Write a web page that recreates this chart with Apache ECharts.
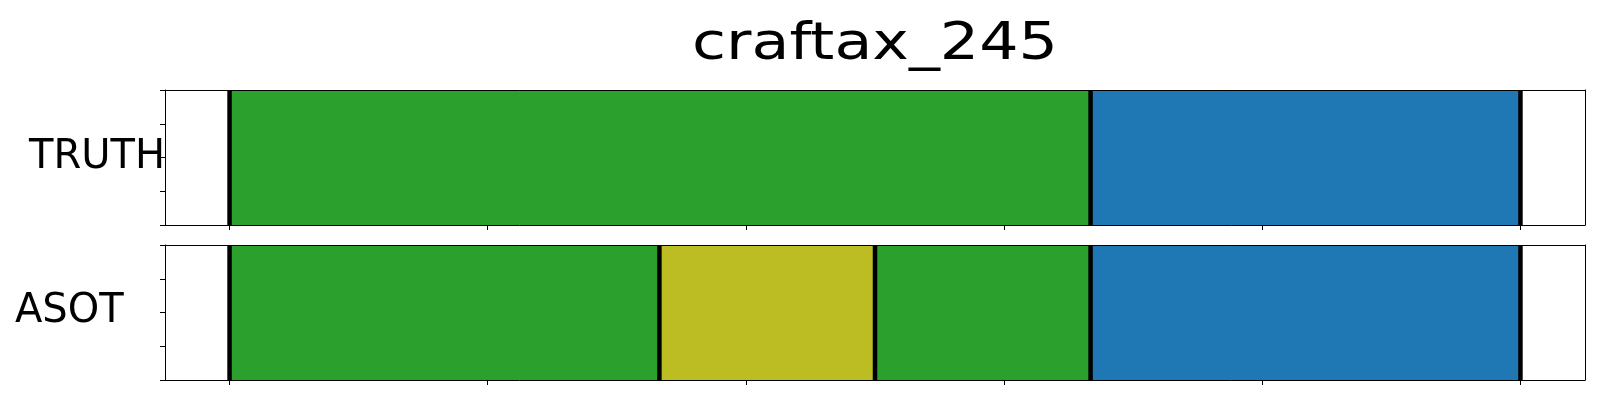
<!DOCTYPE html>
<html>
<head>
<meta charset="utf-8">
<script src="https://cdn.jsdelivr.net/npm/echarts@6/dist/echarts.min.js"></script>
<style>
html,body{margin:0;padding:0;background:#fff;}
#chart{width:1600px;height:400px;}
</style>
</head>
<body>
<div id="chart"></div>
<script>
// ---- data ----
const chartTitle = 'craftax_245';
const rowNames = ['TRUTH', 'ASOT'];
const truthBounds = [0, 66.7, 100];
const truthActions = [2, 0];
const asotBounds = [0, 33.3, 50, 66.7, 100];
const asotActions = [2, 8, 2, 0];
const xTicks = [0, 20, 40, 60, 80, 100];
const yTicks = [0, 0.25, 0.5, 0.75, 1];
const palette = ['#1f77b4', '#ff7f0e', '#2ca02c', '#d62728', '#9467bd', '#8c564b', '#e377c2', '#7f7f7f', '#bcbd22', '#17becf'];

const rows = [
  { bounds: truthBounds, actions: truthActions },
  { bounds: asotBounds, actions: asotActions }
];

const gridTops = [90, 245];
const grids = [], xAxes = [], yAxes = [], series = [];
rows.forEach((row, i) => {
  grids.push({ left: 165, right: 15, top: gridTops[i], height: 135, containLabel: false });
  const axisLine = { show: true, onZero: false, lineStyle: { color: '#000', width: 1 } };
  // bottom x axis
  xAxes.push({
    gridIndex: i, type: 'value', min: -5, max: 105, position: 'bottom', z: 10,
    axisLine: axisLine,
    axisTick: { show: true, length: 5, lineStyle: { color: '#000', width: 1 }, customValues: xTicks },
    axisLabel: { show: false, customValues: xTicks },
    splitLine: { show: false }
  });
  // top x axis (frame)
  xAxes.push({
    gridIndex: i, type: 'value', min: -5, max: 105, position: 'top', z: 10,
    axisLine: axisLine, axisTick: { show: false }, axisLabel: { show: false }, splitLine: { show: false }
  });
  yAxes.push({
    gridIndex: i, type: 'value', min: 0, max: 1, position: 'left', z: 10,
    axisLine: axisLine,
    axisTick: { show: true, length: 5, lineStyle: { color: '#000', width: 1 }, customValues: yTicks },
    axisLabel: { show: false, customValues: yTicks },
    splitLine: { show: false }
  });
  yAxes.push({
    gridIndex: i, type: 'value', min: 0, max: 1, position: 'right', z: 10,
    axisLine: axisLine, axisTick: { show: false }, axisLabel: { show: false }, splitLine: { show: false }
  });
  const segData = row.actions.map((a, k) => [row.bounds[k], row.bounds[k + 1], a]);
  series.push({
    type: 'custom', xAxisIndex: 2 * i, yAxisIndex: 2 * i, z: 2,
    encode: { x: [0, 1] },
    data: segData,
    renderItem: function (params, api) {
      const p0 = api.coord([api.value(0), 1]);
      const p1 = api.coord([api.value(1), 0]);
      return {
        type: 'rect',
        shape: { x: p0[0], y: p0[1], width: p1[0] - p0[0], height: p1[1] - p0[1] },
        style: { fill: palette[api.value(2)] }
      };
    }
  });
  series.push({
    type: 'custom', xAxisIndex: 2 * i, yAxisIndex: 2 * i, z: 3,
    encode: { x: 0 },
    data: row.bounds.map(b => [b]),
    renderItem: function (params, api) {
      const p0 = api.coord([api.value(0), 1]);
      const p1 = api.coord([api.value(0), 0]);
      return {
        type: 'line',
        shape: { x1: p0[0], y1: p0[1], x2: p1[0], y2: p1[1] },
        style: { stroke: '#000', lineWidth: 4.5 }
      };
    }
  });
});

const chart = echarts.init(document.getElementById('chart'), null, { renderer: 'canvas' });
chart.setOption({
  animation: false,
  backgroundColor: '#fff',
  grid: grids,
  xAxis: xAxes,
  yAxis: yAxes,
  series: series,
  graphic: [
    { type: 'text', x: 875, y: 45, scaleX: 1.19, style: { text: chartTitle, font: '52px "DejaVu Sans"', fill: '#000', align: 'center', verticalAlign: 'middle' } },
    { type: 'text', x: 29, y: 158, style: { text: rowNames[0], font: '40px "DejaVu Sans"', fill: '#000', align: 'left', verticalAlign: 'middle' } },
    { type: 'text', x: 15, y: 312, style: { text: rowNames[1], font: '40px "DejaVu Sans"', fill: '#000', align: 'left', verticalAlign: 'middle' } }
  ]
});
</script>
</body>
</html>
